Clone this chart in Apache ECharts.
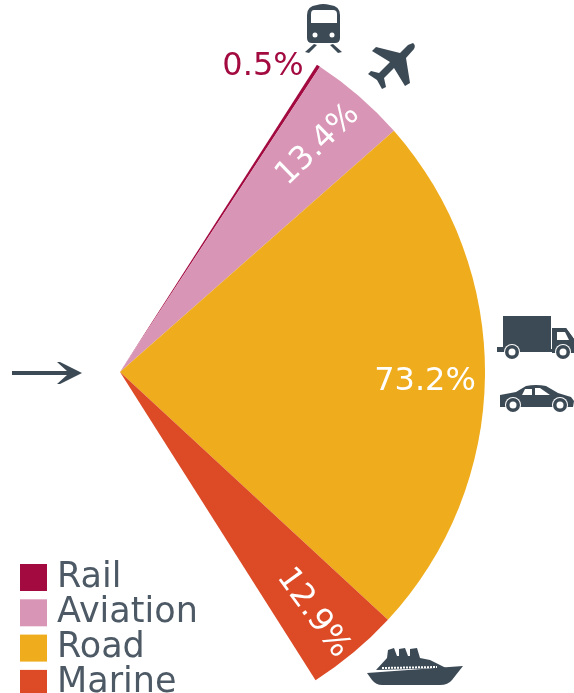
<!DOCTYPE html>
<html><head><meta charset="utf-8">
<style>html,body{margin:0;padding:0;background:#fff}#c{width:574px;height:693px}</style>
<script src="https://cdn.jsdelivr.net/npm/echarts@6/dist/echarts.min.js"></script>
</head><body><div id="c"></div>
<script>
const categories = ['Rail', 'Aviation', 'Road', 'Marine'];
const shares = [0.5, 13.4, 73.2, 12.9];
const colors = ['#a30b40', '#d895b5', '#efac1c', '#dc4a26'];
const labelColors = ['#a30b40', '#fff', '#fff', '#fff'];
const labelRotate = [0, 44, 0, -54];
const labelAt = [[263, 67], [318, 145], [425, 382], [313, 613]];

const INK = '#3c4a56';
const FONT = 'DejaVu Sans';

const darkPaths = [
  // train
  'M317 5 Q323 3 330 5 Q340 6 340 15 L340 38 Q340 43 335 43 L312 43 Q307 43 307 38 L307 15 Q307 6 317 5 Z',
  'M314 44 L317 45 L309 53 L305 52 Z M330 45 L333 44 L342 52 L338 53 Z',
  // plane
  'M413 43 Q416 45 414 49 L406 58 L410 83 L405 86 L394 68 L384 78 L386 87 L382 89 L377 80 L368 74 L371 71 L379 73 L390 62 L372 51 L376 47 L400 53 L408 45 Z',
  // truck
  'M503 316 L551 316 L551 349 L572 349 L574 352 L574 339 L566 328 L552 328 L552 352 L497 352 L497 347 L503 347 Z',
  'M552 328 L566 328 L574 339 L574 353 L552 353 Z',
  // car
  'M500 395 L516 392 L526 386 Q536 384 546 386 L558 393 L571 397 L574 401 L573 407 L500 407 Z',
  // ship
  'M367 673 L463 666 L452 680 Q448 685 440 685 L382 685 Q376 685 372 680 Z',
  'M376 670 L387 658 L388 650 L394 648 L397 656 L399 656 L399 649 L405 648 L408 656 L410 656 L410 649 L417 648 L420 658 L430 660 L446 668 Z',
  // arrow
  'M12 371 L67 371 L57 362 L60 362 L82 373 L60 384 L57 384 L67 375 L12 375 Z'
];
const whitePaths = [
  'M314 10 L333 10 Q337 10 337 14 L337 23 L311 23 L311 14 Q311 10 314 10 Z',
  'M557 332 L565 332 L569 340 L557 340 Z',
  'M525 389 L532 389 L532 395 L522 395 Z M535 388 L540 388 L550 395 L535 395 Z'
];
const wheels = [[512, 352, 7], [563, 352, 7], [513, 405, 7], [560, 405, 7]];
const lights = [[315, 35, 2.5], [332, 35, 2.5]];

const icons = [];
darkPaths.forEach(d => icons.push({type: 'path', shape: {pathData: d}, style: {fill: INK}}));
whitePaths.forEach(d => icons.push({type: 'path', shape: {pathData: d}, style: {fill: '#fff'}}));
lights.forEach(p => icons.push({type: 'circle', shape: {cx: p[0], cy: p[1], r: p[2]}, style: {fill: '#fff'}}));
wheels.forEach(p => {
  icons.push({type: 'circle', shape: {cx: p[0], cy: p[1], r: p[2] + 1}, style: {fill: '#fff'}});
  icons.push({type: 'circle', shape: {cx: p[0], cy: p[1], r: p[2]}, style: {fill: INK}});
  icons.push({type: 'circle', shape: {cx: p[0], cy: p[1], r: p[2] / 2}, style: {fill: '#fff'}});
});
icons.push({type: 'line', shape: {x1: 382, y1: 668, x2: 437, y2: 667},
  style: {stroke: '#fff', lineWidth: 2, lineDash: [2, 1]}});

const chart = echarts.init(document.getElementById('c'), null, {renderer: 'canvas'});
chart.setOption({
  animation: false,
  backgroundColor: '#fff',
  legend: {
    orient: 'vertical', left: 20, top: 560, height: 160,
    data: categories, icon: 'rect', itemWidth: 27, itemHeight: 27, itemGap: 0.3,
    padding: 0, selectedMode: false,
    textStyle: {fontFamily: FONT, fontSize: 35, color: '#4d5a66', lineHeight: 34, padding: [0, 0, 0, 5]},
    itemStyle: {borderWidth: 0}
  },
  series: [{
    type: 'pie',
    center: [120, 372],
    radius: [0, 365],
    startAngle: 57.35,
    endAngle: -57.6,
    clockwise: true,
    avoidLabelOverlap: false,
    minShowLabelAngle: 0,
    silent: true,
    label: {show: true, position: 'inside', fontFamily: FONT, fontSize: 32,
      formatter: p => p.value + '%'},
    labelLine: {show: false},
    labelLayout: p => ({
      x: labelAt[p.dataIndex][0], y: labelAt[p.dataIndex][1],
      align: 'center', verticalAlign: 'middle', rotate: labelRotate[p.dataIndex]
    }),
    data: categories.map((name, i) => ({
      name, value: shares[i],
      itemStyle: {color: colors[i]},
      label: {color: labelColors[i]}
    }))
  }, {
    type: 'custom',
    coordinateSystem: 'none',
    silent: true,
    data: [[0]],
    renderItem: () => ({type: 'group', children: icons})
  }]
});
</script></body></html>
